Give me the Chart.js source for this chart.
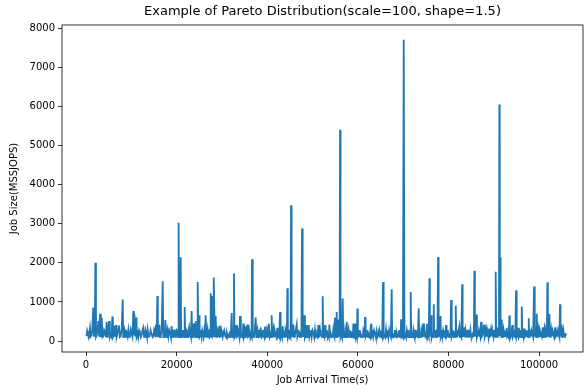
<!DOCTYPE html>
<html>
<head>
<meta charset="utf-8">
<script src="https://cdn.jsdelivr.net/npm/chart.js@4/dist/chart.umd.min.js"></script>
<style>
  html, body { margin: 0; padding: 0; background: #fff; }
  canvas { display: block; }
</style>
</head>
<body>
<canvas id="chart" width="587" height="389"></canvas>
<script>
// Job arrival times (seconds)
const arrivalTimes = [
  100, 250, 400, 640, 880, 1040, 1200, 1400, 1600, 1720, 1850, 1950, 2060, 2200, 2360, 2540, 2720, 2900, 3090, 3200, 3300, 3380, 3460, 3650, 3830, 4000, 4200, 4380, 4560, 4680, 4800, 4940, 5080, 5260, 5450, 5640, 5820, 5940, 6050, 6150, 6260, 6440, 6620, 6760, 6900, 7090, 7280, 7460, 7650, 7880, 8100, 8220, 8350, 8480, 8610, 8800, 9000, 9180, 9350, 9520, 9700, 9870, 10050,
  10250, 10450, 10560, 10670, 10850, 11040, 11170, 11300, 11420, 11550, 11720, 11900, 12100, 12300, 12480, 12660, 12830, 13000, 13150, 13300, 13450, 13610, 13800, 14000, 14250, 14500, 14700, 14900, 15050, 15200, 15320, 15450, 15600, 15750, 15850, 15950, 16070, 16190, 16350, 16500, 16700, 16930, 17070, 17200, 17360, 17520, 17680, 17850, 18000, 18180, 18370, 18550, 18730, 18910, 19050, 19200, 19310, 19420, 19530, 19650, 19820, 20000, 20100, 20200, 20320, 20440,
  20570, 20700, 20800, 20900, 21000, 21100, 21180, 21260, 21380, 21500, 21640, 21780, 21890, 22000, 22110, 22220, 22360, 22500, 22620, 22740, 22870, 23000, 23160, 23320, 23410, 23500, 23600, 23690, 23820, 23950, 24080, 24210, 24330, 24450, 24550, 24650, 24790, 24940, 25070, 25200, 25360, 25530, 25660, 25800, 25950, 26100, 26250, 26410, 26550, 26700, 26850, 27000, 27120, 27250, 27380, 27520, 27610, 27700, 27800, 27890, 27970, 28050, 28150, 28250, 28430, 28620, 28760, 28900, 29020, 29150, 29290, 29430, 29560, 29700, 29850, 30000, 30150, 30310,
  30500, 30700, 30880, 31050, 31220, 31400, 31600, 31780, 31960, 32150, 32280, 32400, 32530, 32660, 32780, 32900, 33000, 33110, 33250, 33400, 33550, 33700, 33850, 33990, 34180, 34360, 34550, 34730, 34870, 35000, 35120, 35240, 35420, 35610, 35750, 35900, 36050, 36200, 36320, 36450, 36550, 36640, 36750, 36850, 36960, 37080, 37260, 37450, 37580, 37700, 37830, 37960, 38080, 38200, 38340, 38480, 38590, 38700, 38810, 38920, 39060, 39200, 39350, 39510, 39630, 39750, 39850, 39950, 40080, 40200, 40300, 40390, 40550, 40700, 40840, 40980,
  41090, 41200, 41350, 41500, 41650, 41800, 42020, 42240, 42370, 42500, 42660, 42830, 42960, 43100, 43260, 43420, 43560, 43700, 43820, 43930, 44060, 44200, 44330, 44450, 44550, 44650, 44740, 44820, 44940, 45050, 45150, 45260, 45380, 45500, 45640, 45770, 45930, 46100, 46300, 46510, 46650, 46800, 46950, 47100, 47250, 47400, 47540, 47680, 47820, 47950, 48080, 48200, 48320, 48450, 48580, 48710, 48830, 48950, 49050, 49150, 49320, 49500, 49660, 49820, 50000, 50200, 50380, 50550, 50720, 50900, 51090, 51280, 51420, 51550, 51680, 51800,
  52000, 52120, 52240, 52370, 52500, 52630, 52760, 52880, 53000, 53140, 53270, 53380, 53500, 53610, 53720, 53860, 54000, 54220, 54450, 54580, 54700, 54840, 54970, 55060, 55150, 55240, 55330, 55420, 55500, 55600, 55700, 55800, 55900, 55980, 56070, 56180, 56300, 56480, 56660, 56780, 56900, 57000, 57100, 57200, 57300, 57420, 57540, 57670, 57800, 57960, 58130, 58260, 58400, 58520, 58650, 58750, 58850, 58930, 59010, 59130, 59250, 59350, 59460, 59570, 59680, 59790, 59900, 60000, 60100, 60220, 60340, 60470, 60600, 60730, 60860, 60980, 61100, 61220, 61350, 61470, 61590, 61720, 61850, 61970, 62100,
  62250, 62400, 62650, 62910, 63030, 63150, 63290, 63430, 63620, 63800, 63980, 64160, 64330, 64500, 64700, 64900, 65050, 65200, 65380, 65560, 65700, 65850, 66030, 66220, 66360, 66500, 66620, 66740, 66920, 67100, 67290, 67470, 67580, 67700, 67840, 67990, 68150, 68300, 68440, 68580, 68740, 68900, 69030, 69170, 69290, 69400, 69470, 69540, 69670, 69800, 69960, 70130, 70290, 70450, 70620, 70790, 70900, 71000, 71120, 71230, 71340, 71450, 71560, 71670, 71780, 71900, 72010, 72120, 72260, 72400, 72520,
  72630, 72740, 72850, 72960, 73080, 73260, 73440, 73540, 73650, 73760, 73880, 74010, 74150, 74280, 74400, 74500, 74600, 74720, 74840, 74950, 75050, 75160, 75280, 75390, 75500, 75650, 75800, 75900, 76000, 76080, 76160, 76300, 76450, 76600, 76750, 76850, 76950, 77070, 77190, 77320, 77450, 77580, 77710, 77830, 77950, 78050, 78150, 78280, 78400, 78530, 78660, 78830, 79000, 79100, 79200, 79330, 79470, 79590, 79700, 79850, 79990, 80150, 80300, 80440, 80580, 80720, 80850, 80970, 81100, 81230, 81350, 81480, 81610, 81730, 81850, 81950, 82060, 82250, 82430, 82560, 82700, 82860, 83020,
  83130, 83250, 83340, 83440, 83540, 83650, 83760, 83880, 84010, 84150, 84280, 84400, 84550, 84700, 84850, 84990, 85150, 85300, 85400, 85500, 85610, 85720, 85840, 85950, 86060, 86170, 86290, 86400, 86500, 86610, 86750, 86900, 87050, 87200, 87350, 87500, 87680, 87860, 88000, 88150, 88300, 88450, 88580, 88700, 88830, 88960, 89100, 89250, 89400, 89550, 89680, 89800, 89930, 90060, 90150, 90250, 90340, 90430, 90540, 90650, 90720, 90800, 90930, 91050, 91150, 91240, 91320, 91390, 91470, 91550, 91650, 91760, 91880, 92000, 92140, 92280, 92420, 92550, 92700, 92860, 93000, 93150, 93300, 93450, 93550, 93650, 93740, 93820, 93960,
  94110, 94230, 94350, 94450, 94560, 94750, 94930, 95060, 95200, 95320, 95440, 95550, 95650, 95730, 95810, 95900, 96000, 96090, 96180, 96320, 96450, 96570, 96690, 96820, 96950, 97080, 97210, 97330, 97450, 97590, 97720, 97830, 97950, 98050, 98160, 98330, 98500, 98700, 98900, 99050, 99200, 99350, 99490, 99620, 99750, 99880, 100000, 100200, 100400, 100600, 100810, 100930, 101050, 101180, 101320, 101460, 101600, 101720, 101840, 101950, 102050, 102160, 102280, 102420, 102550, 102670, 102790, 102970, 103150, 103340, 103530, 103660, 103800, 103920, 104040, 104200, 104350, 104490, 104630, 104740, 104850, 104920, 105000, 105120, 105250, 105380, 105510, 105740, 105960
];

// Job sizes (MSSJOPS), one per arrival
const jobSizes = [
  130, 260, 180, 110, 340, 120, 150, 290, 854, 110, 260, 120, 2000, 100, 140, 270, 510, 110, 700, 100, 180, 120, 600, 100, 120, 280, 230, 100, 490, 110, 150, 270, 510, 100, 170, 110, 624, 100, 130, 280, 390, 110, 410, 100, 160, 290, 400, 100, 120, 300, 1060, 100, 190, 270, 110, 290, 170, 100, 280, 110, 140, 290, 200,
  110, 770, 150, 690, 120, 600, 100, 150, 280, 120, 270, 210, 100, 160, 290, 350, 100, 130, 270, 180, 100, 290, 110, 115, 280, 170, 100, 140, 290, 230, 100, 420, 110, 1150, 100, 200, 110, 420, 100, 130, 260, 1530, 100, 250, 110, 540, 100, 150, 280, 110, 270, 200, 100, 380, 100, 140, 270, 290, 100, 290, 110, 120, 270, 250, 100, 3025,
  110, 140, 120, 2140, 100, 200, 110, 120, 280, 160, 100, 870, 110, 130, 280, 240, 100, 110, 290, 350, 100, 180, 100, 770, 110, 150, 100, 450, 110, 200, 100, 512, 100, 170, 100, 1510, 110, 660, 100, 130, 280, 110, 270, 190, 100, 250, 100, 660, 110, 140, 290, 120, 100, 300, 110, 1220, 150, 400, 120, 1150, 100, 200, 110, 1625, 100, 640, 110, 150, 280, 230, 100, 390, 110, 120, 280, 180, 100, 200,
  270, 130, 100, 225, 100, 160, 100, 250, 110, 715, 100, 180, 110, 1730, 100, 140, 270, 410, 100, 120, 280, 200, 100, 640, 110, 130, 100, 450, 110, 170, 100, 380, 110, 420, 100, 110, 280, 190, 100, 150, 110, 2090, 100, 220, 100, 120, 280, 600, 100, 170, 280, 140, 100, 110, 270, 300, 100, 190, 100, 120, 280, 160, 100, 370, 110, 140, 270, 110, 280, 230, 100, 440, 110, 170, 100, 660,
  110, 150, 280, 120, 270, 190, 100, 340, 110, 140, 100, 740, 100, 170, 100, 380, 110, 130, 270, 110, 280, 220, 100, 1350, 110, 160, 100, 290, 100, 130, 100, 3470, 110, 200, 100, 420, 110, 140, 280, 420, 100, 160, 280, 120, 100, 240, 110, 2880, 100, 200, 110, 660, 100, 150, 100, 410, 110, 130, 100, 410, 100, 180, 280, 110, 270, 200, 100, 290, 110, 140, 100, 410, 110, 120, 280, 170,
  130, 100, 1145, 110, 150, 100, 410, 110, 120, 280, 180, 100, 140, 100, 420, 110, 200, 100, 110, 280, 160, 100, 600, 110, 180, 100, 740, 110, 250, 120, 550, 110, 190, 110, 5400, 120, 180, 100, 1085, 110, 150, 100, 120, 280, 210, 100, 490, 110, 130, 280, 110, 270, 170, 100, 250, 100, 140, 100, 450, 110, 130, 100, 450, 110, 160, 100, 830, 110, 140, 280, 120, 270, 190, 100, 170, 100, 110, 280, 230, 100, 615, 110, 150, 280, 120,
  100, 180, 110, 440, 100, 130, 280, 120, 270, 200, 100, 250, 100, 140, 280, 110, 270, 170, 100, 1510, 110, 150, 100, 290, 110, 130, 270, 110, 280, 160, 100, 1325, 110, 200, 100, 120, 280, 150, 100, 200, 110, 130, 270, 110, 280, 180, 100, 555, 110, 140, 100, 7700, 110, 160, 100, 250, 110, 120, 280, 110, 100, 200, 110, 1255, 100, 170, 100, 120, 280, 160, 100,
  290, 110, 140, 270, 120, 100, 835, 110, 170, 100, 110, 280, 200, 100, 450, 110, 150, 280, 120, 100, 230, 100, 440, 110, 160, 100, 1605, 110, 250, 110, 660, 100, 180, 110, 940, 110, 150, 280, 120, 100, 300, 110, 2150, 100, 200, 110, 640, 100, 150, 280, 110, 270, 170, 100, 130, 100, 410, 110, 140, 280, 120, 100, 200, 110, 1050, 110, 160, 280, 120, 100, 250, 110, 900, 110, 170, 280, 110, 270, 380, 100, 150, 100, 1450,
  100, 170, 110, 350, 100, 130, 270, 110, 280, 200, 100, 290, 110, 140, 280, 120, 100, 160, 100, 230, 110, 1795, 110, 200, 110, 680, 100, 150, 280, 120, 270, 180, 100, 490, 110, 140, 280, 420, 100, 160, 280, 110, 270, 200, 100, 320, 110, 130, 280, 120, 270, 170, 100, 290, 110, 200, 110, 1770, 120, 250, 110, 140, 280, 230, 120, 6050, 900, 2140, 120, 300, 110, 550, 100, 150, 280, 120, 270, 190, 100, 340, 110, 140, 100, 655, 110, 160, 100, 120, 280,
  410, 110, 150, 280, 120, 100, 1300, 110, 180, 100, 340, 110, 140, 280, 110, 270, 200, 100, 880, 110, 170, 100, 320, 110, 140, 280, 120, 270, 200, 100, 580, 110, 150, 280, 110, 270, 190, 100, 1395, 110, 230, 100, 700, 110, 150, 280, 120, 270, 180, 110, 350, 100, 140, 280, 110, 270, 200, 100, 1500, 110, 250, 110, 690, 110, 160, 280, 120, 270, 180, 100, 350, 110, 140, 280, 110, 270, 170, 100, 940, 110, 200, 110, 420, 100, 130, 270, 150, 110, 200
];

// Axis tick labels
const xTicks = [0, 20000, 40000, 60000, 80000, 100000];
const yTicks = [0, 1000, 2000, 3000, 4000, 5000, 6000, 7000, 8000];

const chartTitle = 'Example of Pareto Distribution(scale=100, shape=1.5)';
const xLabel = 'Job Arrival Time(s)';
const yLabel = 'Job Size(MSSJOPS)';

const points = arrivalTimes.map((t, i) => ({ x: t, y: jobSizes[i] }));

const FONT = "'DejaVu Sans', sans-serif";

// Frame around the plot area plus a title centred over it
const framePlugin = {
  id: 'frame',
  afterDraw(chart) {
    const { ctx, chartArea: a } = chart;
    ctx.save();
    ctx.strokeStyle = '#000';
    ctx.lineWidth = 0.8;
    ctx.strokeRect(a.left, a.top, a.right - a.left, a.bottom - a.top);
    ctx.fillStyle = '#000';
    ctx.font = '13px ' + FONT;
    ctx.textAlign = 'center';
    ctx.textBaseline = 'middle';
    ctx.fillText(chartTitle, (a.left + a.right) / 2, 12);
    ctx.restore();
  }
};

const axisGrid = {
  display: true,
  drawOnChartArea: false,
  drawTicks: true,
  tickLength: 4,
  tickWidth: 0.8,
  tickColor: '#000',
  color: '#000'
};

new Chart(document.getElementById('chart'), {
  type: 'line',
  data: {
    datasets: [{
      data: points,
      borderColor: '#1f77b4',
      borderWidth: 1.8,
      pointRadius: 0,
      tension: 0,
      fill: false
    }]
  },
  options: {
    responsive: false,
    devicePixelRatio: 1,
    animation: false,
    layout: { padding: { top: 25, right: 4, left: 0, bottom: 0 } },
    plugins: {
      legend: { display: false },
      tooltip: { enabled: false },
      title: { display: false }
    },
    scales: {
      x: {
        type: 'linear',
        min: -5300,
        max: 109700,
        border: { display: false },
        grid: axisGrid,
        afterBuildTicks: s => { s.ticks = xTicks.map(v => ({ value: v })); },
        afterFit: s => { s.height = 37; },
        ticks: {
          color: '#000',
          padding: 3,
          maxRotation: 0,
          autoSkip: false,
          font: { family: FONT, size: 10 },
          callback: v => String(v)
        },
        title: {
          display: true,
          text: xLabel,
          color: '#000',
          font: { family: FONT, size: 10 },
          padding: { top: 0, bottom: 3 }
        }
      },
      y: {
        type: 'linear',
        min: -280,
        max: 8080,
        border: { display: false },
        grid: axisGrid,
        afterBuildTicks: s => { s.ticks = yTicks.map(v => ({ value: v })); },
        afterFit: s => { s.width = 62; },
        ticks: {
          color: '#000',
          padding: 3,
          autoSkip: false,
          font: { family: FONT, size: 10 },
          callback: v => String(v)
        },
        title: {
          display: true,
          text: yLabel,
          color: '#000',
          font: { family: FONT, size: 10 },
          padding: { top: 8, bottom: 0 }
        }
      }
    }
  },
  plugins: [framePlugin]
});
</script>
</body>
</html>
